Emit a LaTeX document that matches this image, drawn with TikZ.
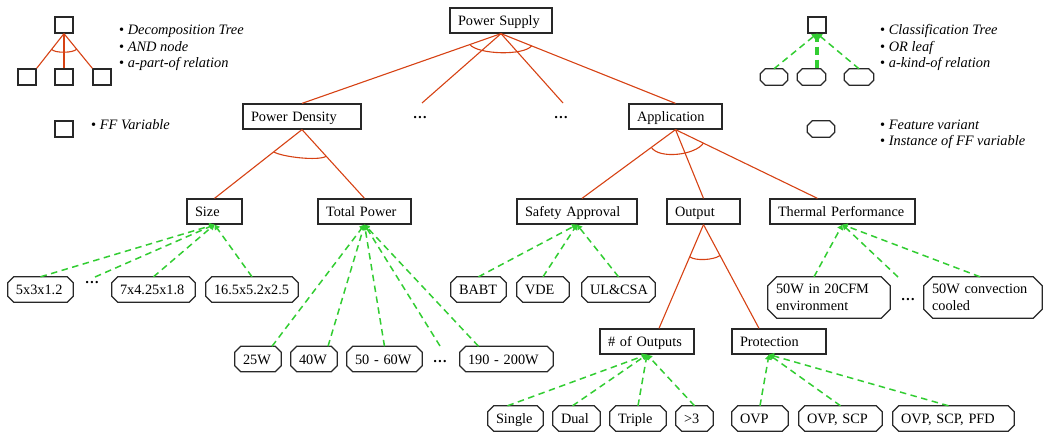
\documentclass[tikz,border=0pt]{standalone}
\usepackage{fontspec}
\setmainfont{Liberation Serif}
\usetikzlibrary{arrows.meta,calc}
\definecolor{andred}{RGB}{214,66,20}
\definecolor{orgreen}{RGB}{50,205,50}
\definecolor{frame}{RGB}{40,40,40}
% octagonal frame (chamfered corners) round a named node
\newcommand\varframe[2]{%
  \draw[varline] ([xshift=#2]#1.north west) -- ([xshift=-#2]#1.north east)
    -- ([yshift=-#2]#1.north east) -- ([yshift=#2]#1.south east)
    -- ([xshift=-#2]#1.south east) -- ([xshift=#2]#1.south west)
    -- ([yshift=#2]#1.south west) -- ([yshift=-#2]#1.north west) -- cycle;}
\begin{document}
\begin{tikzpicture}[x=1pt,y=-1pt,
  txt/.style={font=\fontsize{14.3pt}{17pt}\selectfont},
  tbox/.style={txt, draw=frame, line width=1.25pt, rectangle, fill=white,
    inner xsep=8pt, inner ysep=0pt, minimum height=25pt, align=left,
    text height=11pt, text depth=0pt, text width=#1},
  varnode/.style={txt, rectangle, inner xsep=8pt, inner ysep=0pt,
    minimum height=25pt, align=left, text height=11pt, text depth=0pt, text width=#1},
  varnodeii/.style={txt, rectangle, inner xsep=8pt, inner ysep=0pt,
    minimum height=41pt, align=left, text width=#1},
  varline/.style={draw=frame, line width=1.25pt},
  andedge/.style={draw=andred, line width=1.1pt},
  oredge/.style={draw=orgreen, line width=1.5pt, dash pattern=on 6.5pt off 4.5pt,
    -{Triangle[width=6pt,length=5pt]}},
  ellip/.style={txt, inner sep=0pt, font=\fontsize{14.3pt}{17pt}\selectfont\bfseries},
  leg/.style={font=\fontsize{14.4pt}{17pt}\selectfont\itshape, inner sep=0pt, anchor=base west},
  lbox/.style={draw=frame, line width=1.25pt, rectangle, inner sep=0pt,
    minimum width=18pt, minimum height=16pt},
  lvar/.style={rectangle, inner sep=0pt, minimum width=#1, minimum height=16pt}
]
\useasboundingbox (0,0) rectangle (1050,435);

% ---------- legend: decomposition tree ----------
\node[lbox] (lb0) at (64,25) {};
\node[lbox] (lb1) at (27,77) {};
\node[lbox] (lb2) at (64,77) {};
\node[lbox] (lb3) at (102,77) {};
\node[lbox] (lbff) at (64,129) {};
\draw[andedge] (lb0.south) -- (lb1.north east);
\draw[andedge] (lb0.south) -- (lb2.north);
\draw[andedge] (lb0.south) -- (lb3.north west);
\draw[andedge] ($(lb0.south)!20pt!(lb1.north east)$) .. controls +(3,4) and +(-3,4) .. ($(lb0.south)!20pt!(lb3.north west)$);
\node[leg] (la1) at (119,35) {{\upshape\textbullet}\ Decomposition Tree};
\node[leg] (la2) at (119,52) {{\upshape\textbullet}\ AND node};
\node[leg] (la3) at (119,68) {{\upshape\textbullet}\ a-part-of relation};
\node[leg] (la4) at (91,130) {{\upshape\textbullet}\ FF Variable};

% ---------- legend: classification tree ----------
\node[lbox] (ob0) at (817,25) {};
\node[lvar=27pt] (ov1) at (774,77) {};
\node[lvar=28pt] (ov2) at (811.5,77) {};
\node[lvar=29pt] (ov3) at (859,77) {};
\node[lvar=27pt] (ovf) at (821,129) {};
\varframe{ov1}{5pt}\varframe{ov2}{5pt}\varframe{ov3}{5pt}\varframe{ovf}{5pt}
\draw[oredge] (ov1.north) -- (ob0.south);
\draw[oredge] (ov3.north) -- (ob0.south);
\draw[draw=orgreen, line width=4pt, dash pattern=on 8pt off 5pt] (ob0.south) -- (ob0.south |- ov2.north);
\node[leg] (lo1) at (880,35) {{\upshape\textbullet}\ Classification Tree};
\node[leg] (lo2) at (880,52) {{\upshape\textbullet}\ OR leaf};
\node[leg] (lo3) at (880,68) {{\upshape\textbullet}\ a-kind-of relation};
\node[leg] (lo4) at (880,130) {{\upshape\textbullet}\ Feature variant};
\node[leg] (lo5) at (880,146) {{\upshape\textbullet}\ Instance of FF variable};

% ---------- feature boxes ----------
\node[tbox=86pt]  (ps)   at (501,20.5)   {Power Supply};
\node[tbox=102pt] (pd)   at (302,116.5)  {Power Density};
\node[tbox=77pt]  (app)  at (675.5,116.5) {Application};
\node[ellip] (dL) at (420,118) {\ldots};
\node[ellip] (dR) at (561,118) {\ldots};
\node[tbox=39pt]  (size) at (214.5,211.5) {Size};
\node[tbox=77pt]  (tp)   at (364.5,211.5) {Total Power};
\node[tbox=104pt] (sa)   at (577,211.5)   {Safety Approval};
\node[tbox=57pt]  (out)  at (703.5,211.5) {Output};
\node[tbox=129pt] (th)   at (842.5,211.5) {Thermal Performance};
\node[tbox=78pt]  (nout) at (647,341.5)   {\# of Outputs};
\node[tbox=78pt]  (prot) at (779,341.5)   {Protection};

% ---------- feature variants ----------
\node[varnode=49pt]  (v1)  at (40.5,289.5)  {5x3x1.2};
\node[ellip]         (sD)  at (92,283)      {\ldots};
\node[varnode=67pt]  (v2)  at (153.5,289.5) {7x4.25x1.8};
\node[varnode=76pt]  (v3)  at (252,289.5)   {16.5x5.2x2.5};
\node[varnode=30pt]  (w25) at (258,359)     {25W};
\node[varnode=30pt]  (w40) at (314,359)     {40W};
\node[varnode=59pt]  (w50) at (384.5,359)   {50 - 60W};
\node[ellip]         (wD)  at (440,362)     {\ldots};
\node[varnode=77pt]  (w190) at (506.5,359)  {190 - 200W};
\node[varnode=39pt]  (babt) at (478.5,289.5) {BABT};
\node[varnode=36pt]  (vde)  at (543,289.5)   {VDE};
\node[varnode=57pt]  (ulcsa) at (618.5,289.5) {UL\&CSA};
\node[varnodeii=106pt] (th1) at (829,297.5) {50W in 20CFM\\environment};
\node[ellip]           (tD)  at (908,300)   {\ldots};
\node[varnodeii=102pt] (th2) at (983,297.5) {50W convection\\cooled};
\node[varnode=39pt]  (single) at (515.5,418.5) {Single};
\node[varnode=31pt]  (dual)   at (576.5,418.5) {Dual};
\node[varnode=40pt]  (triple) at (638,418.5)   {Triple};
\node[varnode=21pt]  (gt3)    at (694.5,418.5) {>3};
\node[varnode=40pt]  (ovp)    at (760,418.5)   {OVP};
\node[varnode=67pt]  (ovpscp) at (840.5,418.5) {OVP, SCP};
\node[varnode=105pt] (ovpall) at (953.5,418.5) {OVP, SCP, PFD};
\foreach \n in {v1,v2,v3,w25,w40,w50,w190,babt,vde,ulcsa,single,dual,triple,gt3,ovp,ovpscp,ovpall}
  {\varframe{\n}{6pt}}
\varframe{th1}{9pt}\varframe{th2}{9pt}

% ---------- AND decomposition ----------
\coordinate (dLtop) at (422,103);
\coordinate (dRtop) at (563,103);
\draw[andedge] (ps.south) -- (pd.north);
\draw[andedge] (ps.south) -- (dLtop);
\draw[andedge] (ps.south) -- (dRtop);
\draw[andedge] (ps.south) -- (app.north);
\draw[andedge] ($(ps.south)!33pt!(pd.north)$) .. controls +(8,10) and +(-8,10) .. ($(ps.south)!33pt!(app.north)$);

\draw[andedge] (pd.south) -- (size.north);
\draw[andedge] (pd.south) -- (tp.north);
\draw[andedge] ($(pd.south)!36pt!(size.north)$) .. controls +(8,5) and +(-8,5) .. ($(pd.south)!36pt!(tp.north)$);

\coordinate (saT) at ([xshift=5pt]sa.north);
\coordinate (thT) at ([xshift=-25pt]th.north);
\draw[andedge] (app.south) -- (saT);
\draw[andedge] (app.south) -- (out.north);
\draw[andedge] (app.south) -- (thT);
\draw[andedge] ($(app.south)!30pt!(saT)$) .. controls +(8,12) and +(-8,12) .. ($(app.south)!31pt!(thT)$);

\coordinate (noutT) at ([xshift=12pt]nout.north);
\coordinate (protT) at ([xshift=-20pt]prot.north);
\draw[andedge] (out.south) -- (noutT);
\draw[andedge] (out.south) -- (protT);
\draw[andedge] ($(out.south)!35pt!(noutT)$) .. controls +(6,4.5) and +(-6,4.5) .. ($(out.south)!35pt!(protT)$);

% ---------- OR classification ----------
\coordinate (sDtop) at (95,277);
\draw[oredge] (v1.north) -- (size.south);
\draw[oredge] (sDtop) -- (size.south);
\draw[oredge] (v2.north) -- (size.south);
\draw[oredge] (v3.north) -- (size.south);

\coordinate (wDtop) at (440,346);
\draw[oredge] ([xshift=14pt]w25.north) -- (tp.south);
\draw[oredge] ([xshift=14pt]w40.north) -- (tp.south);
\draw[oredge] (w50.north) -- (tp.south);
\draw[oredge] (wDtop) -- (tp.south);
\draw[oredge] ([xshift=-28pt]w190.north) -- (tp.south);

\draw[oredge] (babt.north) -- (sa.south);
\draw[oredge] (vde.north) -- (sa.south);
\draw[oredge] (ulcsa.north) -- (sa.south);

\coordinate (tDtop) at (898,277);
\draw[oredge] ([xshift=-15pt]th1.north) -- (th.south);
\draw[oredge] (tDtop) -- (th.south);
\draw[oredge] ([xshift=-3pt]th2.north) -- (th.south);

\draw[oredge] ([xshift=-8pt]single.north) -- (nout.south);
\draw[oredge] ([xshift=-4pt]dual.north) -- (nout.south);
\draw[oredge] (triple.north) -- (nout.south);
\draw[oredge] (gt3.north) -- (nout.south);

\coordinate (protB) at ([xshift=-10pt]prot.south);
\draw[oredge] (ovp.north) -- (protB);
\draw[oredge] (ovpscp.north) -- (protB);
\draw[oredge] ([xshift=-5pt]ovpall.north) -- (protB);
\end{tikzpicture}
\end{document}
